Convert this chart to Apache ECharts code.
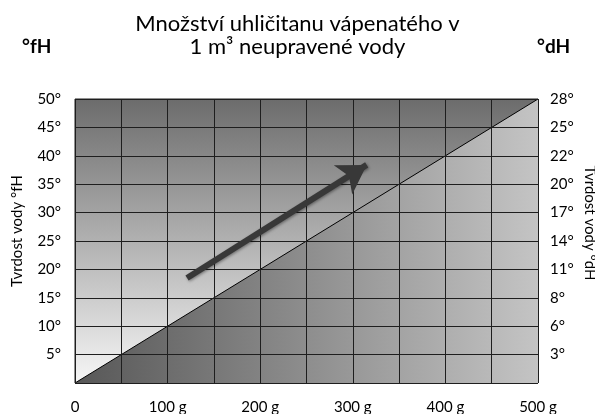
<!DOCTYPE html>
<html>
<head>
    <meta charset="utf-8">
    <title>Tvrdost vody</title>
    <style>html,body{margin:0;padding:0;background:#fff;}</style>
</head>
<body>
    <div id="main" style="width: 595px; height: 414px;"></div>
    <script src="https://cdn.jsdelivr.net/npm/echarts@6/dist/echarts.min.js"></script>
    <script type="text/javascript">
        // osa x: gramy CaCO3 na m3, osa y: °fH, prava osa: °dH
        var xLabels = {0: '0', 100: '100 g', 200: '200 g', 300: '300 g', 400: '400 g', 500: '500 g'};
        var fhTicks = [0, 5, 10, 15, 20, 25, 30, 35, 40, 45, 50];
        var dhLabels = ['', '3°', '6°', '8°', '11°', '14°', '17°', '20°', '22°', '25°', '28°'];
        var topEdge = [[0, 50], [500, 50]];
        var diagonal = [[0, 0], [500, 50]];
        var arrow = [[121, 18.5], [315, 38.4]];

        var font = 'Lato';
        var chartDom = document.getElementById('main');
        var myChart = echarts.init(chartDom);

        var option = {
            animation: false,
            title: {
                text: 'Množství uhličitanu vápenatého v\n1 m³ neupravené vody',
                left: 'center',
                top: 7,
                textStyle: { fontFamily: font, fontSize: 22, fontWeight: 'normal', color: '#000', lineHeight: 23 }
            },
            graphic: [
                { type: 'text', left: 22, top: 37, style: { text: '°fH', font: 'bold 19px Lato', fill: '#000' } },
                { type: 'text', left: 537, top: 37, style: { text: '°dH', font: 'bold 19px Lato', fill: '#000' } }
            ],
            grid: {
                left: 75, right: 57, top: 99, bottom: 31,
                outerBoundsMode: 'none',
                show: true, borderColor: '#222', borderWidth: 1
            },
            xAxis: {
                type: 'value', min: 0, max: 500, interval: 50, z: 5,
                axisLine: { show: false }, axisTick: { show: false },
                splitLine: { show: true, lineStyle: { color: '#1e1e1e', width: 1 } },
                axisLabel: {
                    fontFamily: font, fontSize: 15, color: '#000', margin: 17,
                    formatter: function (v) { return xLabels[v] !== undefined ? xLabels[v] : ''; }
                }
            },
            yAxis: [{
                type: 'value', min: 0, max: 50, interval: 5, z: 5,
                name: 'Tvrdost vody °fH', nameLocation: 'middle', nameGap: 50, nameMoveOverlap: false,
                nameTextStyle: { fontFamily: font, fontSize: 15, color: '#000', padding: [0, 0, 0, 20] },
                axisLine: { show: false }, axisTick: { show: false },
                splitLine: { show: true, lineStyle: { color: '#1e1e1e', width: 1 } },
                axisLabel: {
                    fontFamily: font, fontSize: 15, color: '#000', margin: 14,
                    formatter: function (v) { return v === 0 ? '' : v + '°'; }
                }
            }, {
                type: 'value', min: 0, max: 50, interval: 5, position: 'right',
                name: 'Tvrdost vody °dH', nameLocation: 'middle', nameGap: 44, nameRotate: -90, nameMoveOverlap: false,
                nameTextStyle: { fontFamily: font, fontSize: 15, color: '#000', padding: [0, 36, 0, 0] },
                axisLine: { show: false }, axisTick: { show: false }, splitLine: { show: false },
                axisLabel: {
                    fontFamily: font, fontSize: 15, color: '#000', margin: 12,
                    formatter: function (v) { return dhLabels[fhTicks.indexOf(v)] || ''; }
                }
            }],
            series: [{
                type: 'line', data: topEdge, symbol: 'none', z: 1,
                lineStyle: { width: 0 },
                areaStyle: {
                    opacity: 1, origin: 'start',
                    color: new echarts.graphic.LinearGradient(0, 0, 0, 1, [
                        { offset: 0, color: '#6c6c6c' },
                        { offset: 1, color: '#f6f6f6' }
                    ])
                }
            }, {
                type: 'line', data: diagonal, symbol: 'none', z: 2,
                lineStyle: { width: 1, color: '#000' },
                areaStyle: {
                    opacity: 1, origin: 'start',
                    color: new echarts.graphic.LinearGradient(0, 0, 1, 0, [
                        { offset: 0, color: '#575757' },
                        { offset: 1, color: '#c4c4c4' }
                    ])
                }
            }, {
                type: 'line', data: [], z: 10,
                markLine: {
                    silent: true, symbol: ['none', 'arrow'], symbolSize: [26, 28],
                    label: { show: false },
                    lineStyle: {
                        type: 'solid', width: 6, color: '#383838',
                        shadowBlur: 3, shadowColor: 'rgba(0,0,0,0.4)', shadowOffsetX: 1, shadowOffsetY: 1
                    },
                    data: [[{ coord: arrow[0] }, { coord: arrow[1] }]]
                }
            }]
        };
        myChart.setOption(option);
    </script>
</body>
</html>
